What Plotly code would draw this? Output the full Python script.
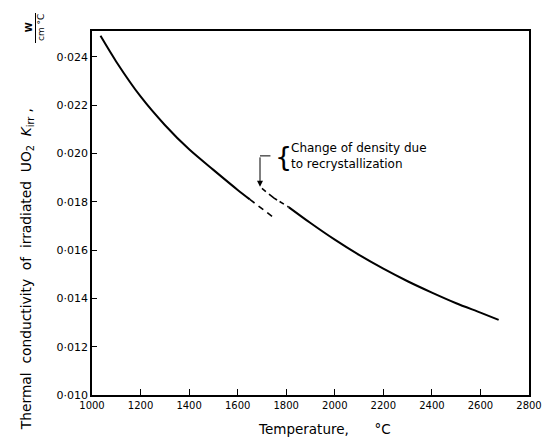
import plotly.graph_objects as go

# ---- data ----
lower_T = [1035, 1100, 1200, 1300, 1400, 1500, 1600, 1650]
lower_K = [0.02487, 0.02380, 0.02236, 0.02118, 0.02017, 0.01932, 0.01849, 0.01810]
lower_dash_T = [1650, 1700, 1750]
lower_dash_K = [0.01810, 0.01771, 0.01733]
upper_dash_T = [1700, 1750, 1810]
upper_dash_K = [0.01855, 0.01815, 0.01778]
upper_T = [1810, 1900, 2000, 2100, 2200, 2300, 2400, 2500, 2600, 2675]
upper_K = [0.01778, 0.01712, 0.01643, 0.01580, 0.01523, 0.01471, 0.01424, 0.01380, 0.01341, 0.01311]

x_ticks = [1000, 1200, 1400, 1600, 1800, 2000, 2200, 2400, 2600, 2800]
x_ticktext = [str(v) for v in x_ticks]
y_ticks = [0.010, 0.012, 0.014, 0.016, 0.018, 0.020, 0.022, 0.024]
y_ticktext = ["0\u00b7010", "0\u00b7012", "0\u00b7014", "0\u00b7016", "0\u00b7018", "0\u00b7020", "0\u00b7022", "0\u00b7024"]

# annotation anchor values (data units)
arrow_T = 1692
arrow_K_top = 0.01990
arrow_K_tip = 0.01862
arrow_cap_T = 1735
note_T = 1812
note_K = 0.01988
brace_T = 1789

FONT = "DejaVu Sans"

fig = go.Figure()
line_style = dict(color="black", width=2, shape="spline", smoothing=0.8)
fig.add_trace(go.Scatter(x=lower_T, y=lower_K, mode="lines", line=line_style, hoverinfo="skip"))
fig.add_trace(go.Scatter(x=lower_dash_T, y=lower_dash_K, mode="lines",
                         line=dict(color="black", width=1.6, dash="6px,5px"), hoverinfo="skip"))
fig.add_trace(go.Scatter(x=upper_dash_T, y=upper_dash_K, mode="lines",
                         line=dict(color="black", width=1.6, dash="5px,4px,10px,3px"), hoverinfo="skip"))
fig.add_trace(go.Scatter(x=upper_T, y=upper_K, mode="lines", line=line_style, hoverinfo="skip"))
# small cap of the pointer
fig.add_trace(go.Scatter(x=[arrow_T, arrow_cap_T], y=[arrow_K_top, arrow_K_top], mode="lines",
                         line=dict(color="black", width=1), hoverinfo="skip"))

fig.add_annotation(x=arrow_T, y=arrow_K_tip, ax=arrow_T, ay=arrow_K_top, xref="x", yref="y",
                   axref="x", ayref="y", text="", showarrow=True, arrowhead=2, arrowsize=1.2,
                   arrowwidth=1, arrowcolor="black")
fig.add_annotation(x=brace_T, y=note_K, xref="x", yref="y", text="{", showarrow=False,
                   font=dict(family=FONT, size=27, color="black"), xanchor="center", yanchor="middle")
fig.add_annotation(x=note_T, y=note_K, xref="x", yref="y",
                   text="Change of density due<br>to recrystallization", showarrow=False, align="left",
                   font=dict(family=FONT, size=12, color="black"), xanchor="left", yanchor="middle")

# axis titles
fig.add_annotation(x=-0.147, y=0.345, xref="paper", yref="paper",
                   text="Thermal\u00a0 conductivity\u00a0 of\u00a0 irradiated\u00a0 UO<sub>2</sub>\u00a0 <i>K</i><sub>irr</sub> ,",
                   textangle=-90, showarrow=False, xanchor="center", yanchor="middle",
                   font=dict(family=FONT, size=13.8, color="black"))
fig.add_annotation(x=(35 - 92) / 437, y=(395 - 28) / 364, xref="paper", yref="paper",
                   text="<b>W</b><br>cm °C", textangle=-90, showarrow=False,
                   xanchor="center", yanchor="middle", font=dict(family=FONT, size=9, color="black"))
fig.add_shape(type="line", xref="paper", yref="paper",
              x0=(35.5 - 92) / 437, x1=(35.5 - 92) / 437, y0=(395 - 13) / 364, y1=(395 - 43) / 364,
              line=dict(color="black", width=1))
fig.add_annotation(x=0.533, y=-0.093, xref="paper", yref="paper",
                   text="Temperature,\u00a0\u00a0\u00a0\u00a0\u00a0\u00a0°C", showarrow=False,
                   xanchor="center", yanchor="middle", font=dict(family=FONT, size=13.5, color="black"))

fig.update_layout(
    width=557, height=439,
    margin=dict(l=92, r=28, t=31, b=44),
    plot_bgcolor="white", paper_bgcolor="white",
    showlegend=False,
    font=dict(family=FONT, color="black"),
)
fig.update_xaxes(range=[1000, 2800], tickvals=x_ticks, ticktext=x_ticktext, ticks="inside", ticklen=6,
                 tickwidth=1, tickcolor="black", showline=True, linecolor="black", linewidth=1.5,
                 mirror=True, showgrid=False, zeroline=False, tickfont=dict(family=FONT, size=10))
fig.update_yaxes(range=[0.010, 0.02507], tickvals=y_ticks, ticktext=y_ticktext, ticks="inside", ticklen=5,
                 tickwidth=1, tickcolor="black", showline=True, linecolor="black", linewidth=1.5,
                 mirror=True, showgrid=False, zeroline=False, tickfont=dict(family=FONT, size=11))

fig.write_html("out.html")
